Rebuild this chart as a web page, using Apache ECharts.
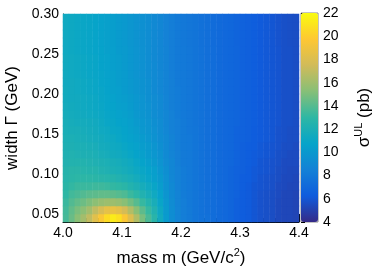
<!DOCTYPE html>
<html><head><meta charset="utf-8">
<script src="https://cdn.jsdelivr.net/npm/echarts@6/dist/echarts.min.js"></script>
<style>html,body{margin:0;padding:0;background:#fff}#c{width:374px;height:268px}</style>
</head><body><div id="c"></div>
<script>
// bin centres (mass in GeV/c^2, width in GeV)
const massBins = ['4.005','4.015','4.025','4.035','4.045','4.055','4.065','4.075','4.085','4.095','4.105','4.115','4.125','4.135','4.145','4.155','4.165','4.175','4.185','4.195','4.205','4.215','4.225','4.235','4.245','4.255','4.265','4.275','4.285','4.295','4.305','4.315','4.325','4.335','4.345','4.355','4.365','4.375','4.385','4.395'];
const widthBins = ['0.045','0.055','0.065','0.075','0.085','0.095','0.105','0.115','0.125','0.135','0.145','0.155','0.165','0.175','0.185','0.195','0.205','0.215','0.225','0.235','0.245','0.255','0.265','0.275','0.285','0.295'];
// sigma^UL (pb), one row per width bin (bottom to top), one value per mass bin
const sigmaRows = [
[13.6,14.5,15.3,16.1,17.0,18.3,19.5,20.6,21.3,20.8,19.6,18.1,16.5,14.9,13.7,12.7,11.4,10.2,9.3,8.7,8.3,8.1,7.8,7.6,7.5,7.3,7.1,7.0,6.8,6.5,6.3,6.2,6.0,5.8,5.7,5.6,5.4,5.3,5.3,5.2],
[13.5,14.3,14.9,15.4,16.1,17.0,17.8,18.5,18.7,18.4,17.7,16.6,15.3,14.2,13.2,12.3,11.2,10.1,9.3,8.7,8.3,8.1,7.8,7.6,7.4,7.3,7.1,7.0,6.8,6.5,6.3,6.2,6.0,5.8,5.7,5.6,5.4,5.3,5.3,5.2],
[13.3,13.9,14.3,14.6,15.0,15.4,15.7,15.9,15.9,15.7,15.3,14.7,14.0,13.2,12.5,11.8,10.9,10.0,9.2,8.6,8.3,8.0,7.8,7.6,7.4,7.3,7.1,7.0,6.8,6.5,6.3,6.2,6.0,5.8,5.7,5.6,5.4,5.3,5.3,5.2],
[13.0,13.5,13.7,13.9,14.1,14.2,14.3,14.3,14.2,14.0,13.8,13.3,12.9,12.3,11.8,11.3,10.6,9.8,9.1,8.6,8.2,8.0,7.8,7.6,7.4,7.3,7.1,7.0,6.8,6.6,6.3,6.2,6.0,5.8,5.7,5.6,5.5,5.3,5.3,5.2],
[12.8,13.1,13.3,13.3,13.3,13.4,13.4,13.3,13.1,13.0,12.8,12.4,12.1,11.7,11.3,10.9,10.3,9.6,9.0,8.5,8.2,8.0,7.8,7.6,7.4,7.3,7.1,7.0,6.8,6.6,6.4,6.2,6.0,5.9,5.8,5.7,5.5,5.4,5.3,5.3],
[12.6,12.8,12.9,12.9,12.9,12.8,12.7,12.6,12.5,12.3,12.1,11.9,11.6,11.2,10.9,10.5,10.1,9.5,8.9,8.5,8.2,8.0,7.8,7.6,7.4,7.3,7.1,7.0,6.8,6.6,6.4,6.3,6.1,5.9,5.8,5.7,5.6,5.4,5.4,5.3],
[12.5,12.7,12.7,12.6,12.5,12.5,12.3,12.2,12.0,11.9,11.7,11.5,11.2,11.0,10.7,10.4,9.9,9.4,8.8,8.5,8.2,8.0,7.8,7.6,7.4,7.3,7.1,7.0,6.8,6.6,6.5,6.3,6.1,6.0,5.9,5.8,5.6,5.5,5.4,5.4],
[12.3,12.4,12.4,12.4,12.3,12.2,12.1,12.0,11.8,11.7,11.5,11.3,11.0,10.7,10.4,10.1,9.7,9.2,8.8,8.4,8.1,8.0,7.8,7.6,7.4,7.3,7.1,7.0,6.9,6.7,6.5,6.4,6.2,6.0,5.9,5.8,5.7,5.5,5.5,5.5],
[12.2,12.3,12.2,12.1,12.1,12.0,11.8,11.7,11.5,11.4,11.2,11.0,10.7,10.5,10.2,9.9,9.6,9.1,8.7,8.4,8.1,8.0,7.8,7.6,7.4,7.3,7.1,7.0,6.9,6.7,6.5,6.4,6.2,6.1,6.0,5.9,5.7,5.6,5.5,5.5],
[12.1,12.1,12.0,12.0,11.9,11.8,11.6,11.5,11.3,11.2,11.0,10.8,10.6,10.3,10.1,9.8,9.4,9.0,8.6,8.3,8.1,8.0,7.8,7.6,7.4,7.3,7.1,7.0,6.9,6.7,6.5,6.4,6.3,6.1,6.0,5.9,5.8,5.6,5.6,5.5],
[12.0,12.0,11.9,11.8,11.7,11.6,11.5,11.3,11.2,11.0,10.8,10.6,10.4,10.2,9.9,9.6,9.3,9.0,8.6,8.3,8.1,8.0,7.8,7.6,7.4,7.3,7.1,7.0,6.9,6.7,6.6,6.5,6.3,6.2,6.1,6.0,5.8,5.7,5.6,5.6],
[11.9,11.8,11.8,11.7,11.6,11.5,11.3,11.2,11.0,10.9,10.7,10.5,10.3,10.0,9.8,9.5,9.2,8.9,8.5,8.3,8.1,7.9,7.8,7.6,7.4,7.3,7.1,7.0,6.9,6.7,6.6,6.5,6.3,6.2,6.1,6.0,5.8,5.7,5.6,5.6],
[11.8,11.7,11.6,11.6,11.5,11.4,11.2,11.0,10.9,10.7,10.6,10.4,10.1,9.9,9.7,9.4,9.2,8.8,8.5,8.3,8.1,7.9,7.7,7.6,7.4,7.3,7.1,7.0,6.9,6.8,6.6,6.5,6.4,6.2,6.1,6.0,5.9,5.7,5.7,5.6],
[11.7,11.6,11.5,11.4,11.3,11.2,11.1,10.9,10.8,10.6,10.5,10.3,10.0,9.8,9.6,9.3,9.1,8.8,8.5,8.2,8.0,7.9,7.7,7.6,7.4,7.3,7.1,7.0,6.9,6.8,6.6,6.5,6.4,6.2,6.1,6.0,5.9,5.7,5.7,5.6],
[11.6,11.5,11.4,11.3,11.2,11.1,11.0,10.8,10.7,10.5,10.4,10.2,9.9,9.7,9.5,9.2,9.0,8.7,8.4,8.2,8.0,7.9,7.7,7.6,7.4,7.3,7.1,7.0,6.9,6.8,6.6,6.5,6.4,6.2,6.1,6.0,5.9,5.7,5.7,5.6],
[11.5,11.4,11.4,11.3,11.2,11.1,10.9,10.8,10.6,10.4,10.3,10.1,9.9,9.7,9.4,9.2,9.0,8.7,8.4,8.2,8.0,7.9,7.7,7.6,7.4,7.3,7.1,7.0,6.9,6.8,6.6,6.5,6.4,6.2,6.1,6.0,5.9,5.7,5.7,5.6],
[11.5,11.4,11.3,11.2,11.1,11.0,10.9,10.7,10.5,10.4,10.2,10.0,9.8,9.6,9.4,9.1,8.9,8.6,8.4,8.2,8.0,7.9,7.7,7.6,7.4,7.3,7.1,7.0,6.9,6.8,6.6,6.5,6.4,6.2,6.1,6.0,5.9,5.7,5.7,5.6],
[11.4,11.4,11.3,11.2,11.1,11.0,10.8,10.7,10.5,10.3,10.2,10.0,9.8,9.6,9.4,9.1,8.9,8.6,8.4,8.1,8.0,7.9,7.7,7.6,7.4,7.3,7.1,7.0,6.9,6.8,6.6,6.5,6.4,6.2,6.1,6.0,5.9,5.7,5.7,5.6],
[11.4,11.3,11.2,11.1,11.0,10.9,10.8,10.6,10.5,10.3,10.2,9.9,9.7,9.5,9.3,9.1,8.9,8.6,8.3,8.1,8.0,7.9,7.7,7.6,7.4,7.3,7.1,7.0,6.9,6.8,6.6,6.5,6.4,6.2,6.1,6.0,5.9,5.7,5.7,5.6],
[11.4,11.3,11.2,11.1,11.0,10.9,10.7,10.6,10.4,10.3,10.1,9.9,9.7,9.5,9.3,9.1,8.8,8.6,8.3,8.1,8.0,7.9,7.7,7.6,7.4,7.3,7.1,7.0,6.9,6.8,6.6,6.5,6.4,6.2,6.1,6.0,5.9,5.7,5.7,5.6],
[11.4,11.3,11.2,11.1,11.0,10.9,10.7,10.6,10.4,10.3,10.1,9.9,9.7,9.5,9.3,9.0,8.8,8.6,8.3,8.1,8.0,7.9,7.7,7.6,7.4,7.3,7.1,7.0,6.9,6.8,6.6,6.5,6.4,6.2,6.1,6.0,5.9,5.7,5.7,5.6],
[11.3,11.2,11.1,11.0,10.9,10.8,10.7,10.5,10.4,10.2,10.1,9.9,9.7,9.5,9.3,9.0,8.8,8.6,8.3,8.1,8.0,7.9,7.7,7.6,7.4,7.3,7.1,7.0,6.9,6.8,6.6,6.5,6.4,6.2,6.1,6.0,5.9,5.7,5.7,5.6],
[11.3,11.2,11.1,11.0,10.9,10.8,10.65,10.5,10.35,10.2,10.05,9.85,9.65,9.45,9.25,9.0,8.8,8.55,8.3,8.1,7.95,7.85,7.7,7.55,7.4,7.25,7.1,7.0,6.9,6.75,6.6,6.5,6.35,6.2,6.1,6.0,5.85,5.7,5.65,5.6],
[11.3,11.2,11.1,11.0,10.9,10.8,10.65,10.5,10.35,10.2,10.05,9.85,9.65,9.45,9.25,9.0,8.8,8.55,8.3,8.1,7.95,7.85,7.7,7.55,7.4,7.25,7.1,7.0,6.9,6.75,6.6,6.5,6.35,6.2,6.1,6.0,5.85,5.7,5.65,5.6],
[11.3,11.2,11.1,11.0,10.9,10.8,10.65,10.5,10.35,10.2,10.05,9.85,9.65,9.45,9.25,9.0,8.8,8.55,8.3,8.1,7.95,7.85,7.7,7.55,7.4,7.25,7.1,7.0,6.9,6.75,6.6,6.5,6.35,6.2,6.1,6.0,5.85,5.7,5.65,5.6],
[11.3,11.2,11.1,11.0,10.9,10.8,10.65,10.5,10.35,10.2,10.05,9.85,9.65,9.45,9.25,9.0,8.8,8.55,8.3,8.1,7.95,7.85,7.7,7.55,7.4,7.25,7.1,7.0,6.9,6.75,6.6,6.5,6.35,6.2,6.1,6.0,5.85,5.7,5.65,5.6]
];
const massTicks = [4.0, 4.1, 4.2, 4.3, 4.4];
const widthTicks = [0.05, 0.10, 0.15, 0.20, 0.25, 0.30];
const widthMinorTicks = [0.04,0.06,0.07,0.08,0.09,0.11,0.12,0.13,0.14,0.16,0.17,0.18,0.19,0.21,0.22,0.23,0.24,0.26,0.27,0.28,0.29];
const colorTicks = [4, 22, 2]; // min, max, step of the colour scale
const parula = ['#352a87','#0f5cdd','#1481d6','#06a4ca','#2eb7a4','#87bf77','#d1bb59','#fec832','#f9fb0e'];

const F = '"Liberation Sans", Arial, Helvetica, sans-serif';
const data = [];
sigmaRows.forEach((row, j) => row.forEach((v, i) => data.push([i, j, v])));

const chart = echarts.init(document.getElementById('c'), null, {renderer: 'canvas'});
const black = {color: '#000', width: 1};
chart.setOption({
  animation: false,
  backgroundColor: '#fff',
  grid: [
    {left: 63, top: 14, width: 236, height: 208, show: false, outerBoundsMode: 'none'},
    {left: 301, top: 13, width: 17, height: 209, show: true, borderColor: '#888', borderWidth: 1, backgroundColor: 'transparent', outerBoundsMode: 'none'}
  ],
  xAxis: [
    {type: 'category', gridIndex: 0, data: massBins, show: false, position: 'bottom'},
    {type: 'value', gridIndex: 0, position: 'bottom', min: massTicks[0], max: massTicks[massTicks.length - 1], interval: 0.1,
      axisLine: {show: true, onZero: false, lineStyle: black},
      axisTick: {show: true, inside: true, length: 8, lineStyle: black},
      minorTick: {show: true, splitNumber: 5, length: 4, lineStyle: black},
      axisLabel: {color: '#000', fontSize: 14, fontFamily: F, margin: 4, customValues: massTicks, formatter: v => v.toFixed(1)},
      splitLine: {show: false},
      name: '{t|mass m (GeV/c}{u|2}{t|)}', nameLocation: 'middle', nameGap: 25,
      nameTextStyle: {color: '#000', fontFamily: F, fontSize: 17, rich: {
        t: {fontSize: 17, fontFamily: F, color: '#000', verticalAlign: 'bottom', lineHeight: 20},
        u: {fontSize: 11, fontFamily: F, color: '#000', verticalAlign: 'top', lineHeight: 20}}}
    },
    {type: 'value', gridIndex: 1, show: false, min: 0, max: 1}
  ],
  yAxis: [
    {type: 'category', gridIndex: 0, data: widthBins, show: false, position: 'left'},
    {type: 'value', gridIndex: 0, position: 'left', min: 0.04, max: 0.30,
      axisLine: {show: true, onZero: false, lineStyle: black},
      axisTick: {show: true, inside: true, length: 8, lineStyle: black, customValues: widthTicks},
      axisLabel: {color: '#000', fontSize: 14, fontFamily: F, margin: 4, customValues: widthTicks, formatter: v => v.toFixed(2)},
      splitLine: {show: false},
      name: 'width Γ (GeV)', nameLocation: 'middle', nameGap: 35, nameRotate: 90,
      nameTextStyle: {color: '#000', fontFamily: F, fontSize: 17}
    },
    {type: 'value', gridIndex: 0, position: 'left', min: 0.04, max: 0.30,
      axisLine: {show: false}, axisLabel: {show: false}, splitLine: {show: false},
      axisTick: {show: true, inside: true, length: 4, lineStyle: black, customValues: widthMinorTicks}
    },
    {type: 'value', gridIndex: 1, position: 'right', min: colorTicks[0], max: colorTicks[1], interval: colorTicks[2],
      axisLine: {show: false},
      axisTick: {show: true, inside: false, length: 4, lineStyle: black},
      axisLabel: {color: '#000', fontSize: 14, fontFamily: F, margin: 5},
      splitLine: {show: false},
      name: '{s|σ}{u|UL}{s| (pb)}', nameLocation: 'middle', nameGap: 35, nameRotate: 90,
      nameTextStyle: {color: '#000', fontFamily: F, fontSize: 17, rich: {
        s: {fontSize: 17, fontFamily: F, color: '#000', verticalAlign: 'bottom', lineHeight: 20},
        u: {fontSize: 11, fontFamily: F, color: '#000', verticalAlign: 'top', lineHeight: 20}}}
    }
  ],
  visualMap: {
    type: 'continuous', min: colorTicks[0], max: colorTicks[1], dimension: 2, seriesIndex: 0,
    left: 301, top: 13, itemWidth: 17, itemHeight: 209, padding: 0,
    calculable: false, showLabel: false, text: null, hoverLink: false,
    inRange: {color: parula}
  },
  series: [{
    type: 'heatmap', xAxisIndex: 0, yAxisIndex: 0, data: data, progressive: 0,
    itemStyle: {borderWidth: 0}, emphasis: {disabled: true}
  }]
});
</script></body></html>
